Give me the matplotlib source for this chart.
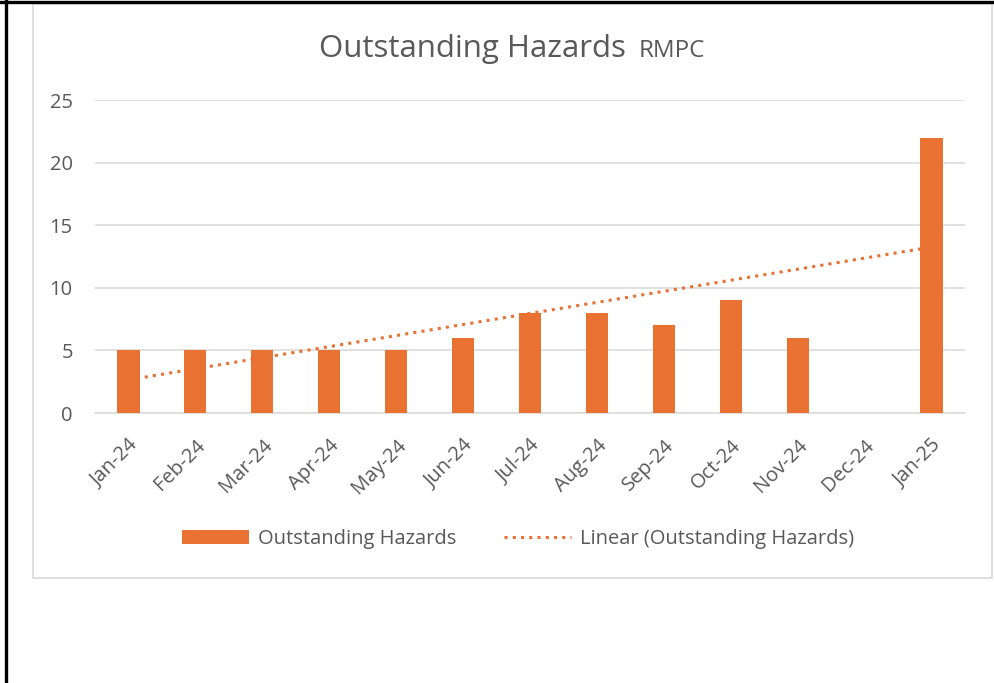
import matplotlib
matplotlib.use("Agg")
import matplotlib.pyplot as plt
from matplotlib.lines import Line2D
from matplotlib.patches import Rectangle, Patch
import numpy as np

plt.rcParams["font.family"] = ["Open Sans", "DejaVu Sans"]

months = ["Jan-24", "Feb-24", "Mar-24", "Apr-24", "May-24", "Jun-24", "Jul-24",
          "Aug-24", "Sep-24", "Oct-24", "Nov-24", "Dec-24", "Jan-25"]
hazards = [5, 5, 5, 5, 5, 6, 8, 8, 7, 9, 6, np.nan, 22]
yticks = [0, 5, 10, 15, 20, 25]

orange = "#E97132"
grey_text = "#595959"
grid_col = "#D9D9D9"

W, H = 995, 683
fig = plt.figure(figsize=(W / 100, H / 100), dpi=100)

def fx(px):
	return px / W

def fy(py):
	return 1 - py / H

# outer black frame (left + top) and chart area border
fig.add_artist(Line2D([fx(6.5), fx(6.5)], [0, 1], color="black", lw=2.4, transform=fig.transFigure))
fig.add_artist(Line2D([0, 1], [fy(1.5), fy(1.5)], color="black", lw=2.4, transform=fig.transFigure))
fig.add_artist(Rectangle((fx(33), fy(578)), fx(992) - fx(33), fy(4) - fy(578),
	transform=fig.transFigure, fill=False, edgecolor=grid_col, lw=1.2))

ax = fig.add_axes([fx(95), fy(413), fx(965) - fx(95), fy(100) - fy(413)])
x = np.arange(len(months))
vals = np.array(hazards, dtype=float)

ax.bar(x, vals, width=0.33, color=orange, zorder=3)

# excel style linear trendline, blanks skipped
ok = ~np.isnan(vals)
k, b = np.polyfit(x[ok] + 1, vals[ok], 1)
ax.plot(x, k * (x + 1) + b, color=orange, lw=2.2, linestyle=(0, (1, 1.7)), zorder=2)

ax.set_xlim(-0.5, len(months) - 0.5)
ax.set_ylim(0, 25)
ax.set_yticks(yticks)
ax.set_xticks(x)
ax.set_xticklabels(months, rotation=45, ha="right", rotation_mode="anchor")
ax.grid(axis="y", color=grid_col, lw=1.1, zorder=0)
ax.set_axisbelow(True)
for s in ["top", "right", "left"]:
	ax.spines[s].set_visible(False)
ax.spines["bottom"].set_color(grid_col)
ax.spines["bottom"].set_linewidth(1.1)
ax.tick_params(axis="y", length=0, pad=16, labelsize=14.5, labelcolor=grey_text)
ax.tick_params(axis="x", length=0, pad=16, labelsize=14.5, labelcolor=grey_text)

fig.text(fx(626), fy(57), "Outstanding Hazards", ha="right", va="baseline", fontsize=22.5, color=grey_text)
fig.text(fx(639), fy(57), "RMPC", ha="left", va="baseline", fontsize=17.5, color=grey_text)

handles = [Patch(facecolor=orange, edgecolor="none"),
	Line2D([], [], color=orange, lw=2.2, linestyle=(0, (1, 1.7)))]
fig.legend(handles, ["Outstanding Hazards", "Linear (Outstanding Hazards)"],
	loc="center", bbox_to_anchor=(fx(518), fy(539)), ncol=2, frameon=False,
	fontsize=14.5, labelcolor=grey_text, handlelength=3.3, handleheight=0.7,
	handletextpad=0.45, columnspacing=2.4)

fig.savefig("out.png", dpi=100)
